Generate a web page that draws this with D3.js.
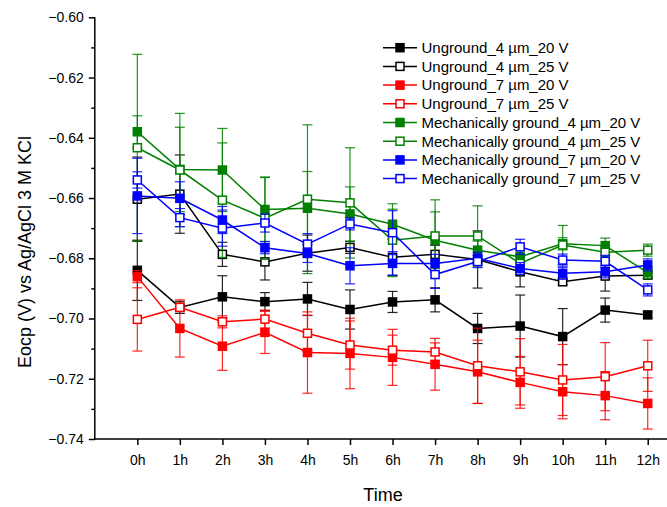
<!DOCTYPE html>
<html>
<head>
<meta charset="utf-8">
<script src="https://cdn.jsdelivr.net/npm/d3@7"></script>
<style>
  html, body { margin: 0; padding: 0; background: #fff; }
  svg { display: block; font-family: "Liberation Sans", Arial, sans-serif; }
</style>
</head>
<body>
<svg id="chart" width="667" height="507"></svg>
<script>
// categories on the x axis
const hours = ["0h", "1h", "2h", "3h", "4h", "5h", "6h", "7h", "8h", "9h", "10h", "11h", "12h"];

// series names (legend order)
const seriesNames = [
  "Unground_4 \u00b5m_20 V",
  "Unground_4 \u00b5m_25 V",
  "Unground_7 \u00b5m_20 V",
  "Unground_7 \u00b5m_25 V",
  "Mechanically ground_4 \u00b5m_20 V",
  "Mechanically ground_4 \u00b5m_25 V",
  "Mechanically ground_7 \u00b5m_20 V",
  "Mechanically ground_7 \u00b5m_25 V",
];

// mean Eocp values (V)
const ug4_20 = [-0.6840, -0.6963, -0.6928, -0.6944, -0.6935, -0.6970, -0.6945, -0.6938, -0.7033, -0.7025, -0.7060, -0.6972, -0.6988];
const ug4_25 = [-0.6604, -0.6587, -0.6787, -0.6812, -0.6783, -0.6764, -0.6797, -0.6787, -0.6804, -0.6845, -0.6878, -0.6859, -0.6856];
const ug7_20 = [-0.6861, -0.7033, -0.7092, -0.7046, -0.7113, -0.7116, -0.7129, -0.7152, -0.7177, -0.7212, -0.7243, -0.7256, -0.7282];
const ug7_25 = [-0.7003, -0.6963, -0.7011, -0.7002, -0.7049, -0.7088, -0.7105, -0.7111, -0.7157, -0.7177, -0.7204, -0.7193, -0.7157];
const mg4_20 = [-0.6380, -0.6505, -0.6507, -0.6638, -0.6634, -0.6653, -0.6687, -0.6740, -0.6773, -0.6795, -0.6752, -0.6758, -0.6848];
const mg4_25 = [-0.6433, -0.6507, -0.6607, -0.6667, -0.6604, -0.6616, -0.6740, -0.6726, -0.6726, -0.6817, -0.6756, -0.6780, -0.6773];
const mg7_20 = [-0.6593, -0.6601, -0.6673, -0.6765, -0.6784, -0.6825, -0.6817, -0.6817, -0.6800, -0.6834, -0.6850, -0.6845, -0.6822];
const mg7_25 = [-0.6540, -0.6665, -0.6700, -0.6683, -0.6753, -0.6686, -0.6715, -0.6854, -0.6811, -0.6762, -0.6806, -0.6810, -0.6905];

// error bars (+/-, V)
const ug4_20Err = [0.010, 0.002, 0.007, 0.003, 0.0055, 0.0065, 0.0035, 0.004, 0.005, 0.0103, 0.0093, 0.004, 0.001];
const ug4_25Err = [0.014, 0.013, 0.004, 0.006, 0.006, 0.002, 0.006, 0.003, 0.0095, 0.005, 0.001, 0.005, 0.001];
const ug7_20Err = [0.002, 0.0095, 0.008, 0.007, 0.0135, 0.0117, 0.0093, 0.0086, 0.0105, 0.0086, 0.009, 0.008, 0.0085];
const ug7_25Err = [0.0105, 0.001, 0.002, 0.003, 0.006, 0.008, 0.005, 0.003, 0.0125, 0.011, 0.0118, 0.0113, 0.0085];
const mg4_20Err = [0.0053, 0.014, 0.0138, 0.0106, 0.0122, 0.009, 0.005, 0.0094, 0.003, 0.002, 0.002, 0.0025, 0.002];
const mg4_25Err = [0.031, 0.0188, 0.019, 0.0137, 0.0247, 0.0183, 0.0121, 0.012, 0.010, 0.002, 0.0065, 0.002, 0.002];
const mg7_20Err = [0.0125, 0.0055, 0.0045, 0.002, 0.003, 0.006, 0.0039, 0.003, 0.002, 0.002, 0.002, 0.002, 0.002];
const mg7_25Err = [0.0027, 0.003, 0.006, 0.003, 0.0035, 0.002, 0.0073, 0.0046, 0.002, 0.0025, 0.002, 0.002, 0.002];

// y tick labels
const yTicks = [-0.74, -0.72, -0.70, -0.68, -0.66, -0.64, -0.62, -0.60];

const colors = ["#000000", "#000000", "#ff0000", "#ff0000", "#008000", "#008000", "#0000ff", "#0000ff"];
const filled = [true, false, true, false, true, false, true, false];

const series = seriesNames.map((name, i) => ({
  name,
  color: colors[i],
  filled: filled[i],
  values: [ug4_20, ug4_25, ug7_20, ug7_25, mg4_20, mg4_25, mg7_20, mg7_25][i],
  errs: [ug4_20Err, ug4_25Err, ug7_20Err, ug7_25Err, mg4_20Err, mg4_25Err, mg7_20Err, mg7_25Err][i],
}));

const svg = d3.select("#chart");
const margin = { top: 17.3, left: 94.8, bottom: 439 };

// 1. Scales
const x = d3.scaleLinear().domain([-1, 12.5]).range([margin.left, 669]);
const y = d3.scaleLinear().domain([-0.74, -0.60]).range([margin.bottom, margin.top]);

// 2. Axes
const yAxis = d3.axisLeft(y)
  .tickValues(yTicks)
  .tickSize(6)
  .tickFormat(d3.format(".2f"));
const yMinor = d3.axisLeft(y)
  .tickValues(d3.range(-0.73, -0.60, 0.02))
  .tickSize(3.5)
  .tickFormat("");

const yG = svg.append("g").attr("transform", `translate(${margin.left},0)`);
yG.call(yAxis);
yG.append("g").call(yMinor);
yG.selectAll("path.domain").remove();
yG.selectAll("line").attr("stroke", "#000").attr("stroke-width", 1.5);
yG.selectAll("text")
  .attr("x", -11)
  .attr("font-size", 14)
  .attr("fill", "#000")
  .attr("font-family", "Liberation Sans, Arial, sans-serif");
yG.append("line")
  .attr("y1", y(-0.74) + 0.75)
  .attr("y2", y(-0.60))
  .attr("stroke", "#000")
  .attr("stroke-width", 1.5);

const xAxis = d3.axisBottom(x)
  .tickValues(d3.range(hours.length))
  .tickSize(6)
  .tickFormat((d) => hours[d]);
const xG = svg.append("g").attr("transform", `translate(0,${margin.bottom})`);
xG.call(xAxis);
xG.selectAll("path.domain").remove();
xG.selectAll("line").attr("stroke", "#000").attr("stroke-width", 1.5);
xG.selectAll("text")
  .attr("y", 16)
  .attr("font-size", 14)
  .attr("fill", "#000")
  .attr("font-family", "Liberation Sans, Arial, sans-serif");
xG.append("line")
  .attr("x1", margin.left - 0.75)
  .attr("x2", 667)
  .attr("stroke", "#000")
  .attr("stroke-width", 1.5);

// 3. Axis titles
svg.append("text")
  .attr("transform", `translate(31,252) rotate(-90)`)
  .attr("text-anchor", "middle")
  .attr("font-size", 18)
  .attr("fill", "#000")
  .text("Eocp (V) vs Ag/AgCl 3 M KCl");

svg.append("text")
  .attr("x", 383)
  .attr("y", 501)
  .attr("text-anchor", "middle")
  .attr("font-size", 18)
  .attr("fill", "#000")
  .text("Time");

// 4. Series: lines, error bars, markers
const line = d3.line().x((d, i) => x(i)).y((d) => y(d));
const ms = 8;
const cap = 5;

series.forEach((s) => {
  const g = svg.append("g");
  g.append("path")
    .datum(s.values)
    .attr("d", line)
    .attr("fill", "none")
    .attr("stroke", s.color)
    .attr("stroke-width", 1.5);

  const eb = g.selectAll("g.err")
    .data(s.values.map((v, i) => ({ i, v, e: s.errs[i] })))
    .enter()
    .append("g")
    .attr("stroke", s.color)
    .attr("stroke-width", 1.2)
    .attr("stroke-opacity", 0.85);
  eb.append("line")
    .attr("x1", (d) => x(d.i)).attr("x2", (d) => x(d.i))
    .attr("y1", (d) => y(d.v + d.e)).attr("y2", (d) => y(d.v - d.e));
  eb.append("line")
    .attr("x1", (d) => x(d.i) - cap).attr("x2", (d) => x(d.i) + cap)
    .attr("y1", (d) => y(d.v + d.e)).attr("y2", (d) => y(d.v + d.e));
  eb.append("line")
    .attr("x1", (d) => x(d.i) - cap).attr("x2", (d) => x(d.i) + cap)
    .attr("y1", (d) => y(d.v - d.e)).attr("y2", (d) => y(d.v - d.e));

  g.selectAll("rect")
    .data(s.values)
    .enter()
    .append("rect")
    .attr("x", (d, i) => x(i) - ms / 2)
    .attr("y", (d) => y(d) - ms / 2)
    .attr("width", ms)
    .attr("height", ms)
    .attr("fill", s.filled ? s.color : "#fff")
    .attr("stroke", s.color)
    .attr("stroke-width", 1.5);
});

// 5. Legend
const legend = svg.append("g").attr("transform", "translate(383,47.7)");
const row = legend.selectAll("g")
  .data(series)
  .enter()
  .append("g")
  .attr("transform", (d, i) => `translate(0,${i * 18.7})`);
row.append("line")
  .attr("x1", 0).attr("x2", 34)
  .attr("stroke", (d) => d.color)
  .attr("stroke-width", 1.5);
row.append("rect")
  .attr("x", 17 - ms / 2)
  .attr("y", -ms / 2)
  .attr("width", ms)
  .attr("height", ms)
  .attr("fill", (d) => (d.filled ? d.color : "#fff"))
  .attr("stroke", (d) => d.color)
  .attr("stroke-width", 1.5);
row.append("text")
  .attr("x", 38.5)
  .attr("y", 5.3)
  .attr("font-size", 15)
  .attr("fill", "#000")
  .text((d) => d.name);
</script>
</body>
</html>
